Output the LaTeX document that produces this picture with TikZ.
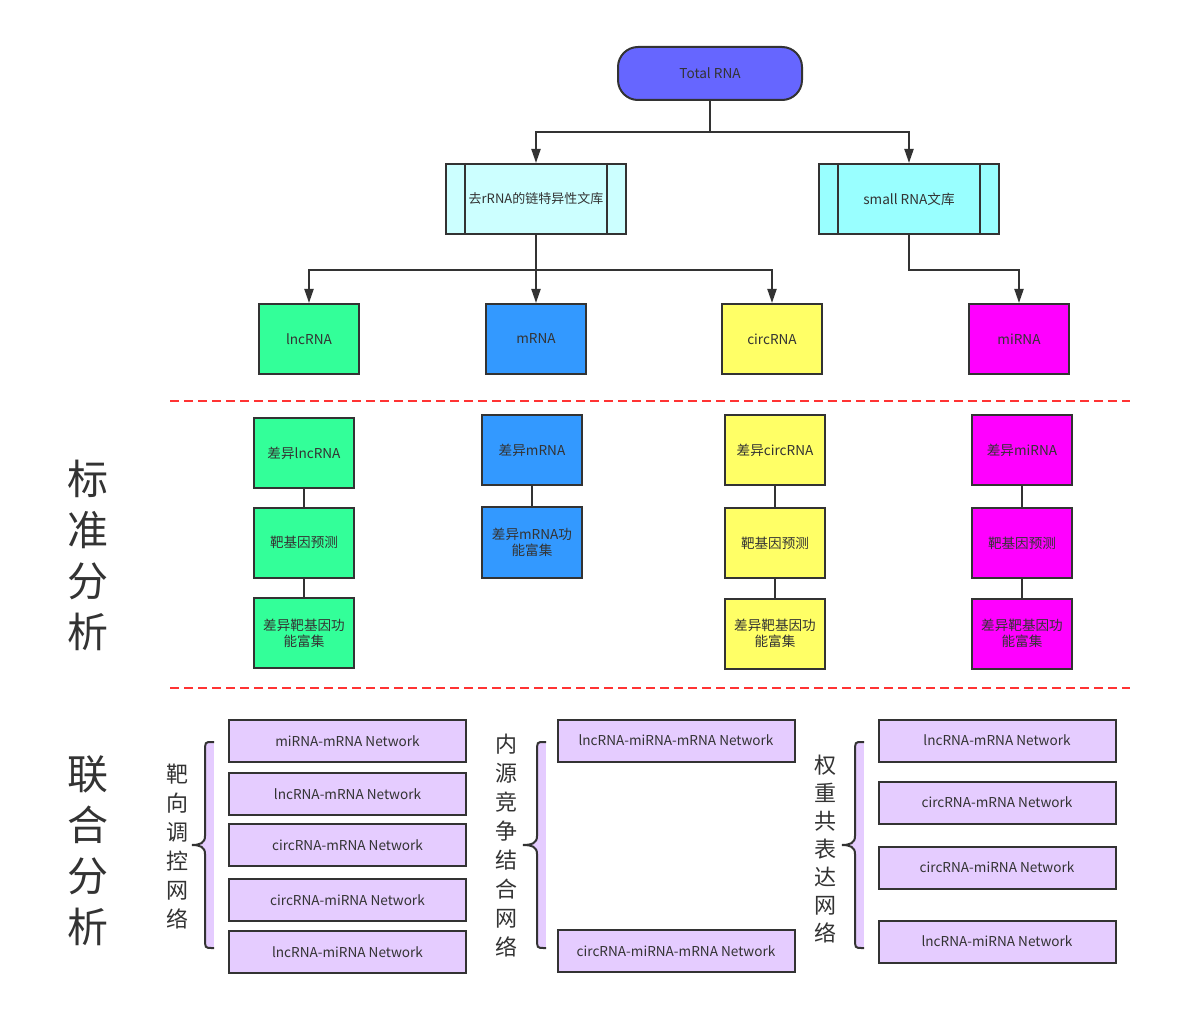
\documentclass[tikz,border=0pt]{standalone}
\usepackage{fontspec}
\setmainfont{Noto Sans CJK SC}
\usetikzlibrary{arrows.meta}
\definecolor{dk}{HTML}{333333}
\definecolor{cTotal}{HTML}{6666FF}
\definecolor{cLibA}{HTML}{CCFFFF}
\definecolor{cLibB}{HTML}{99FFFF}
\definecolor{cLnc}{HTML}{33FF99}
\definecolor{cM}{HTML}{3399FF}
\definecolor{cCirc}{HTML}{FFFF66}
\definecolor{cMi}{HTML}{FF00FF}
\definecolor{cLav}{HTML}{E5CCFF}
\definecolor{cRed}{HTML}{FF3333}
\newcommand{\fsz}[2]{\fontsize{#1}{#2}\selectfont}
\begin{document}
\begin{tikzpicture}[x=1pt,y=-1pt,
  base/.style={draw=dk, line width=2pt, inner sep=0pt, text=dk, align=center, font=\fsz{13.6}{16}},
  rbox/.style={base, minimum width=100pt, minimum height=70pt},
  libbox/.style={base, minimum width=180pt, minimum height=70pt},
  nbox/.style={base, fill=cLav, minimum width=237pt, minimum height=42pt},
  conn/.style={draw=dk, line width=2pt},
  arr/.style={conn, -{Triangle[width=9pt,length=14pt]}},
  sep/.style={draw=cRed, line width=2pt, dash pattern=on 9pt off 5pt},
  bigtxt/.style={text=dk, align=center, inner sep=0pt, font=\fsz{41}{51}},
  sidetxt/.style={text=dk, align=center, inner sep=0pt, font=\fsz{22}{29}},
  bracefill/.style={fill=cLav, draw=none},
  bracedraw/.style={draw=dk, line width=2pt}
]
\useasboundingbox (0,0) rectangle (1192,1035);

% top level
\node[base, fill=cTotal, minimum width=184pt, minimum height=53pt, rounded corners=20pt] (total) at (710,73.5) {Total RNA};
\node[libbox, fill=cLibA, font=\fsz{13}{16}] (libA) at (536,199) {去rRNA的链特异性文库};
\node[libbox, fill=cLibB] (libB) at (909,199) {small RNA文库};
\draw[conn] ([xshift=20pt]libA.north west) -- ([xshift=20pt]libA.south west);
\draw[conn] ([xshift=-20pt]libA.north east) -- ([xshift=-20pt]libA.south east);
\draw[conn] ([xshift=20pt]libB.north west) -- ([xshift=20pt]libB.south west);
\draw[conn] ([xshift=-20pt]libB.north east) -- ([xshift=-20pt]libB.south east);

\node[rbox, fill=cLnc] (lnc) at (309,339) {lncRNA};
\node[rbox, fill=cM] (mrna) at (536,339) {mRNA};
\node[rbox, fill=cCirc] (circ) at (772,339) {circRNA};
\node[rbox, fill=cMi] (mi) at (1019,339) {miRNA};

\draw[arr] (total.south) -- ++(0,31) -| (libA.north);
\draw[arr] (total.south) -- ++(0,31) -| (libB.north);
\draw[arr] (libA.south) -- ++(0,35) -| (lnc.north);
\draw[arr] (libA.south) -- (mrna.north);
\draw[arr] (libA.south) -- ++(0,35) -| (circ.north);
\draw[arr] (libB.south) -- ++(0,35) -| (mi.north);

% separators
\draw[sep] (170,401) -- (1130,401);
\draw[sep] (170,688) -- (1130,688);

% standard analysis
\node[bigtxt] (std) at (88,555) {标\\准\\分\\析};

\node[rbox, fill=cLnc] (d1) at (304,453) {差异lncRNA};
\node[rbox, fill=cLnc] (t1) at (304,542.5) {靶基因预测};
\node[rbox, fill=cLnc] (f1) at (304,633) {差异靶基因功\\能富集};
\draw[conn] (d1.south) -- (t1.north);
\draw[conn] (t1.south) -- (f1.north);

\node[rbox, fill=cM] (d2) at (532,450) {差异mRNA};
\node[rbox, fill=cM, minimum height=71pt] (f2) at (532,542.5) {差异mRNA功\\能富集};
\draw[conn] (d2.south) -- (f2.north);

\node[rbox, fill=cCirc] (d3) at (775,450) {差异circRNA};
\node[rbox, fill=cCirc] (t3) at (775,543) {靶基因预测};
\node[rbox, fill=cCirc] (f3) at (775,633.5) {差异靶基因功\\能富集};
\draw[conn] (d3.south) -- (t3.north);
\draw[conn] (t3.south) -- (f3.north);

\node[rbox, fill=cMi] (d4) at (1022,450) {差异miRNA};
\node[rbox, fill=cMi] (t4) at (1022,543) {靶基因预测};
\node[rbox, fill=cMi] (f4) at (1022,633.5) {差异靶基因功\\能富集};
\draw[conn] (d4.south) -- (t4.north);
\draw[conn] (t4.south) -- (f4.north);

% joint analysis
\node[bigtxt] (joint) at (88,851) {联\\合\\分\\析};

% braces
\foreach \bx/\tx in {205/192, 537/523, 855/842}{
  \path[bracefill] (\bx+1,742) -- (\bx+9,742) -- (\bx+9,948) -- (\bx+1,948) -- cycle;
  \path[bracefill] (\bx+7,742) .. controls (\bx,742) and (\bx,742) .. (\bx,752) -- (\bx,836)
     .. controls (\bx,843) and (\bx-5,845) .. (\tx,845)
     .. controls (\bx-5,845) and (\bx,847) .. (\bx,854) -- (\bx,938)
     .. controls (\bx,948) and (\bx,948) .. (\bx+7,948) -- cycle;
  \draw[bracedraw] (\bx+9,742) -- (\bx+7,742) .. controls (\bx,742) and (\bx,742) .. (\bx,752) -- (\bx,836)
     .. controls (\bx,843) and (\bx-5,845) .. (\tx,845)
     .. controls (\bx-5,845) and (\bx,847) .. (\bx,854) -- (\bx,938)
     .. controls (\bx,948) and (\bx,948) .. (\bx+7,948) -- (\bx+9,948);
}

\node[sidetxt] (lblA) at (177,847) {靶\\向\\调\\控\\网\\络};
\node[sidetxt] (lblB) at (506,846) {内\\源\\竞\\争\\结\\合\\网\\络};
\node[sidetxt, font=\fsz{22}{28}] (lblC) at (825,849) {权\\重\\共\\表\\达\\网\\络};

\node[nbox] (a1) at (347.5,741) {miRNA-mRNA Network};
\node[nbox] (a2) at (347.5,794) {lncRNA-mRNA Network};
\node[nbox] (a3) at (347.5,845) {circRNA-mRNA Network};
\node[nbox] (a4) at (347.5,900) {circRNA-miRNA Network};
\node[nbox] (a5) at (347.5,952) {lncRNA-miRNA Network};

\node[nbox] (b1) at (676,740.5) {lncRNA-miRNA-mRNA Network};
\node[nbox] (b2) at (676,951) {circRNA-miRNA-mRNA Network};

\node[nbox] (c1) at (997,740.5) {lncRNA-mRNA Network};
\node[nbox] (c2) at (997,802.5) {circRNA-mRNA Network};
\node[nbox] (c3) at (997,867.5) {circRNA-miRNA Network};
\node[nbox] (c4) at (997,941.5) {lncRNA-miRNA Network};
\end{tikzpicture}
\end{document}
